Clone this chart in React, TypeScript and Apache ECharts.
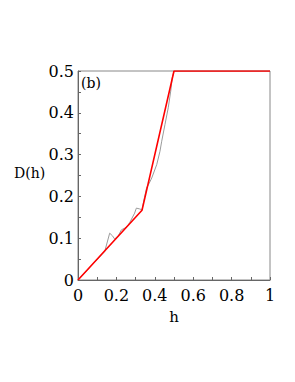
import React, { useEffect, useRef } from "react";
import * as echarts from "echarts";

const redX = [0, 1 / 3, 0.5, 1];
const redY = [0, 1 / 6, 0.5, 0.5];

const grayX = [0, 0.139, 0.165, 0.179, 0.191, 0.21, 0.226, 0.243, 0.256, 0.269, 0.295, 0.304, 0.321, 0.333, 0.345, 0.358, 0.365, 0.384, 0.41, 0.427, 0.436, 0.453, 0.47, 0.483, 0.491, 0.5, 1];
const grayY = [0, 0.068, 0.112, 0.106, 0.098, 0.106, 0.12, 0.124, 0.128, 0.137, 0.16, 0.172, 0.17, 0.168, 0.195, 0.222, 0.226, 0.244, 0.276, 0.308, 0.332, 0.372, 0.412, 0.452, 0.484, 0.5, 0.5];

const xTickLabels = ["0", "0.2", "0.4", "0.6", "0.8", "1"];
const yTickLabels = ["0", "0.1", "0.2", "0.3", "0.4", "0.5"];

export default function App() {
  const ref = useRef<HTMLDivElement>(null);
  useEffect(() => {
    const chart = echarts.init(ref.current!, null, { renderer: "svg" });
    const font = "DejaVu Serif";
    chart.setOption({
      animation: false,
      backgroundColor: "#ffffff",
      textStyle: { fontFamily: font },
      grid: { left: 78, right: 25, top: 71, bottom: 102, show: true, borderColor: "#888", borderWidth: 1 },
      xAxis: {
        type: "value",
        min: 0,
        max: 1,
        interval: 0.1,
        name: "h",
        nameLocation: "middle",
        nameGap: 29,
        nameTextStyle: { fontFamily: font, fontSize: 15, color: "#000" },
        axisLine: { show: true, lineStyle: { color: "#666", width: 1 } },
        axisTick: { show: true, inside: true, length: 3, lineStyle: { color: "#666" } },
        splitLine: { show: false },
        axisLabel: {
          fontFamily: font,
          fontSize: 16,
          color: "#000",
          margin: 7,
          formatter: (v: number) => {
            const k = Math.round(v * 10);
            return k % 2 === 0 ? xTickLabels[k / 2] : "";
          },
        },
      },
      yAxis: {
        type: "value",
        min: 0,
        max: 0.5,
        interval: 0.05,
        axisLine: { show: true, lineStyle: { color: "#666", width: 1 } },
        axisTick: { show: true, inside: true, length: 3, lineStyle: { color: "#666" } },
        splitLine: { show: false },
        axisLabel: {
          fontFamily: font,
          fontSize: 16,
          color: "#000",
          margin: 4,
          formatter: (v: number) => {
            const k = Math.round(v * 20);
            return k % 2 === 0 ? yTickLabels[k / 2] : "";
          },
        },
      },
      graphic: [
        { type: "text", left: 14, top: 166, style: { text: "D(h)", fontFamily: font, fontSize: 14, fill: "#000" } },
        { type: "text", left: 81, top: 76, style: { text: "(b)", fontFamily: font, fontSize: 14, fill: "#000" } },
      ],
      series: [
        {
          type: "line",
          data: grayX.map((x, i) => [x, grayY[i]]),
          showSymbol: false,
          lineStyle: { color: "#9a9a9a", width: 1 },
          z: 2,
        },
        {
          type: "line",
          data: redX.map((x, i) => [x, redY[i]]),
          showSymbol: false,
          lineStyle: { color: "#ff0000", width: 1.6 },
          z: 3,
        },
      ],
    });
    return () => chart.dispose();
  }, []);
  return <div ref={ref} style={{ width: 295, height: 382, margin: -8 }} />;
}
